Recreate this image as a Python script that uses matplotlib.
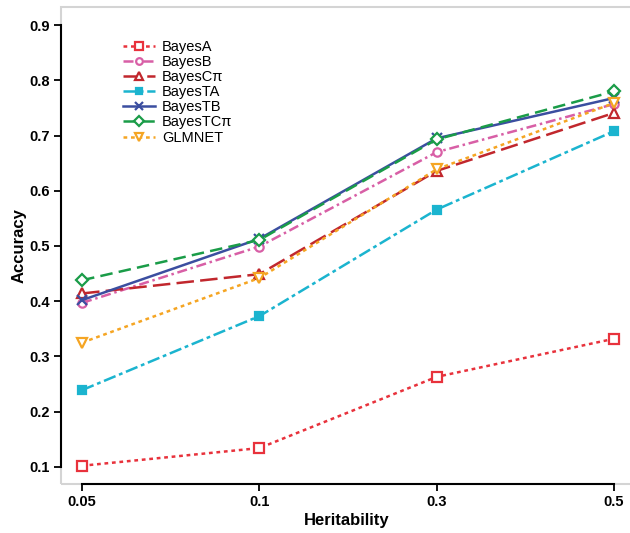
'''
accuracy vs heritability for several genomic prediction methods
'''

import matplotlib.pyplot as plt
from matplotlib.patches import Rectangle

plt.rcParams['font.family'] = ['Liberation Sans', 'DejaVu Sans']

heritability = ['0.05', '0.1', '0.3', '0.5']

bayes_a = [0.102, 0.134, 0.263, 0.332]
bayes_b = [0.397, 0.499, 0.670, 0.757]
bayes_cpi = [0.414, 0.449, 0.636, 0.741]
bayes_ta = [0.239, 0.373, 0.566, 0.708]
bayes_tb = [0.402, 0.513, 0.695, 0.768]
bayes_tcpi = [0.438, 0.511, 0.693, 0.780]
glmnet = [0.325, 0.442, 0.639, 0.759]

methods = ['BayesA', 'BayesB', 'BayesC\u03c0', 'BayesTA', 'BayesTB', 'BayesTC\u03c0', 'GLMNET']
series = [bayes_a, bayes_b, bayes_cpi, bayes_ta, bayes_tb, bayes_tcpi, glmnet]
colors = ['#e8323c', '#d85fa6', '#c1272d', '#1bb4cf', '#3b4ea0', '#1a9c48', '#f5a523']
styles = [(0, (1.5, 1.5)), (0, (4, 1.5, 1, 1.5)), (0, (7, 2.5)), (0, (5, 1.5, 1.5, 1.5)),
          '-', (0, (5, 2.5)), (0, (1.5, 1.5))]
markers = ['s', 'o', '^', 's', 'x', 'D', 'v']
filled = [False, False, False, True, True, False, False]
msizes = [7, 6, 7, 6, 7, 6, 7]

fig = plt.figure(figsize=(6.3, 5.33), dpi=100)
ax = fig.add_axes([0.0968, 0.092, 0.906, 0.894])

x = list(range(len(heritability)))
for vals, name, c, ls, m, f, ms in zip(series, methods, colors, styles, markers, filled, msizes):
    ax.plot(x, vals, color=c, linestyle=ls, linewidth=1.8, marker=m, markersize=ms,
            markerfacecolor=c if f else 'white', markeredgecolor=c, markeredgewidth=1.6,
            label=name)

ax.set_xlim(-0.119, 3.10)
ax.set_ylim(0.069, 0.932)
ax.set_xticks(x)
ax.set_xticklabels(heritability)
ax.set_yticks([0.1, 0.2, 0.3, 0.4, 0.5, 0.6, 0.7, 0.8, 0.9])
ax.set_yticklabels(['0.1', '0.2', '0.3', '0.4', '0.5', '0.6', '0.7', '0.8', '0.9'])

for s in ['top', 'right']:
    ax.spines[s].set_visible(False)
ax.spines['left'].set_bounds(0.1, 0.9)
ax.spines['bottom'].set_bounds(0, 3)
for s in ['left', 'bottom']:
    ax.spines[s].set_linewidth(1.5)
    ax.spines[s].set_color('black')
    ax.spines[s].set_zorder(5)
ax.add_patch(Rectangle((0, 0), 1, 1, transform=ax.transAxes, fill=False,
                       edgecolor='#d4d4d4', linewidth=1.5, clip_on=False, zorder=0.5))

ax.tick_params(axis='both', length=5, width=1.3, color='black', labelsize=10.5, pad=3)
for lab in ax.get_xticklabels() + ax.get_yticklabels():
    lab.set_fontweight('bold')
ax.set_xlabel('Heritability', fontsize=12, fontweight='bold', labelpad=3)
ax.set_ylabel('Accuracy', fontsize=12, fontweight='bold', labelpad=2)

ax.legend(loc='upper left', bbox_to_anchor=(0.085, 0.96), frameon=False, fontsize=10.5,
          handlelength=2.2, labelspacing=0.08, handletextpad=0.5, markerscale=0.8)

plt.savefig('out.png', dpi=100)
